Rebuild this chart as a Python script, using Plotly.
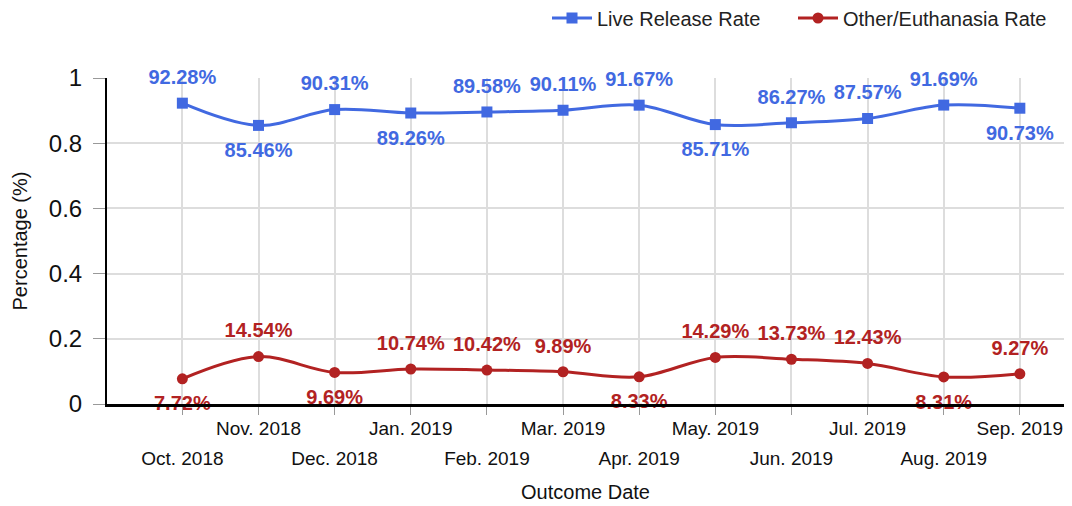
import plotly.graph_objects as go

months = ["Oct. 2018", "Nov. 2018", "Dec. 2018", "Jan. 2019", "Feb. 2019", "Mar. 2019",
          "Apr. 2019", "May. 2019", "Jun. 2019", "Jul. 2019", "Aug. 2019", "Sep. 2019"]
live_release = [0.9228, 0.8546, 0.9031, 0.8926, 0.8958, 0.9011,
                0.9167, 0.8571, 0.8627, 0.8757, 0.9169, 0.9073]
other_euth = [0.0772, 0.1454, 0.0969, 0.1074, 0.1042, 0.0989,
              0.0833, 0.1429, 0.1373, 0.1243, 0.0831, 0.0927]
live_label_pos = ["top", "bottom", "top", "bottom", "top", "top",
                  "top", "bottom", "top", "top", "top", "bottom"]
other_label_pos = ["bottom", "top", "bottom", "top", "top", "top",
                   "bottom", "top", "top", "top", "bottom", "top"]
y_ticks = [0, 0.2, 0.4, 0.6, 0.8, 1]
y_tick_labels = ["0", "0.2", "0.4", "0.6", "0.8", "1"]

BLUE = "#4169E1"
RED = "#B22222"
FONT = "Arial, Liberation Sans, sans-serif"

# page body has an 8px margin: figure pixel = screen pixel - 8
W, H = 1064, 498

x = list(range(len(months)))
upper_text = [m if i % 2 == 1 else "" for i, m in enumerate(months)]
lower_vals = [i for i in x if i % 2 == 0]
lower_text = [months[i] for i in lower_vals]


def label_gap(positions):
    # invisible marker sizes only used to push the value labels off the points
    return [21 if p == "top" else 25 for p in positions]


fig = go.Figure()
series = [
    ("Live Release Rate", live_release, live_label_pos, BLUE, "square", "x", "legend"),
    ("Other/Euthanasia Rate", other_euth, other_label_pos, RED, "circle", "x2", "legend2"),
]
for name, vals, pos, color, sym, xa, lg in series:
    fig.add_trace(go.Scatter(
        x=x, y=vals, name=name, mode="lines+markers", legend=lg,
        line=dict(color=color, width=3, shape="spline", smoothing=1.0),
        marker=dict(symbol=sym, size=11, color=color),
        cliponaxis=False, xaxis=xa, yaxis="y",
    ))
for name, vals, pos, color, sym, xa, lg in series:
    fig.add_trace(go.Scatter(
        x=x, y=vals, name=name, mode="markers+text", showlegend=False,
        hoverinfo="skip",
        marker=dict(size=label_gap(pos), color=color, opacity=0),
        text=[f"{v*100:.2f}%" for v in vals],
        textposition=[p + " center" for p in pos],
        textfont=dict(family=FONT, size=20, color=color, weight="bold"),
        cliponaxis=False, xaxis=xa, yaxis="y",
    ))

legend_common = dict(orientation="h", xref="container", yref="container",
                     xanchor="left", y=1 - 10 / H, yanchor="middle", itemwidth=40,
                     font=dict(size=20, family=FONT, color="#222"),
                     bgcolor="rgba(0,0,0,0)")

xrange = [-0.99, 11.58]
fig.update_layout(
    width=W, height=H,
    margin=dict(l=99, r=8, t=70, b=H - 396, autoexpand=False),
    paper_bgcolor="white", plot_bgcolor="white",
    font=dict(family=FONT, color="#000"),
    showlegend=True,
    legend=dict(x=539 / W, **legend_common),
    legend2=dict(x=785 / W, **legend_common),
    xaxis=dict(
        range=xrange, tickmode="array", tickvals=x, ticktext=upper_text,
        showgrid=True, gridcolor="#dddddd", gridwidth=2,
        showline=True, linecolor="black", linewidth=2.5,
        ticks="outside", ticklen=8, tickcolor="#999", tickwidth=1,
        tickfont=dict(size=19, family=FONT, color="#111"),
        ticklabelstandoff=-3, zeroline=False,
        title=dict(text="Outcome Date", font=dict(size=20, family=FONT, color="#111"),
                   standoff=48),
        automargin=False,
    ),
    xaxis2=dict(
        range=xrange, overlaying="x", anchor="y", side="bottom",
        tickmode="array", tickvals=lower_vals, ticktext=lower_text,
        showgrid=False, showline=False, zeroline=False, ticks="",
        tickfont=dict(size=19, family=FONT, color="#111"),
        ticklabelstandoff=41, automargin=False,
    ),
    yaxis=dict(
        range=[0, 1], tickmode="array", tickvals=y_ticks, ticktext=y_tick_labels,
        showgrid=True, gridcolor="#dddddd", gridwidth=2,
        showline=True, linecolor="black", linewidth=2,
        ticks="outside", ticklen=12, tickcolor="#999", tickwidth=1,
        tickfont=dict(size=24, family=FONT, color="#111"),
        ticklabelstandoff=6, zeroline=False,
        title=dict(text="Percentage (%)", font=dict(size=20, family=FONT, color="#111"),
                   standoff=16),
        automargin=False,
    ),
)

fig.write_html("out.html")
